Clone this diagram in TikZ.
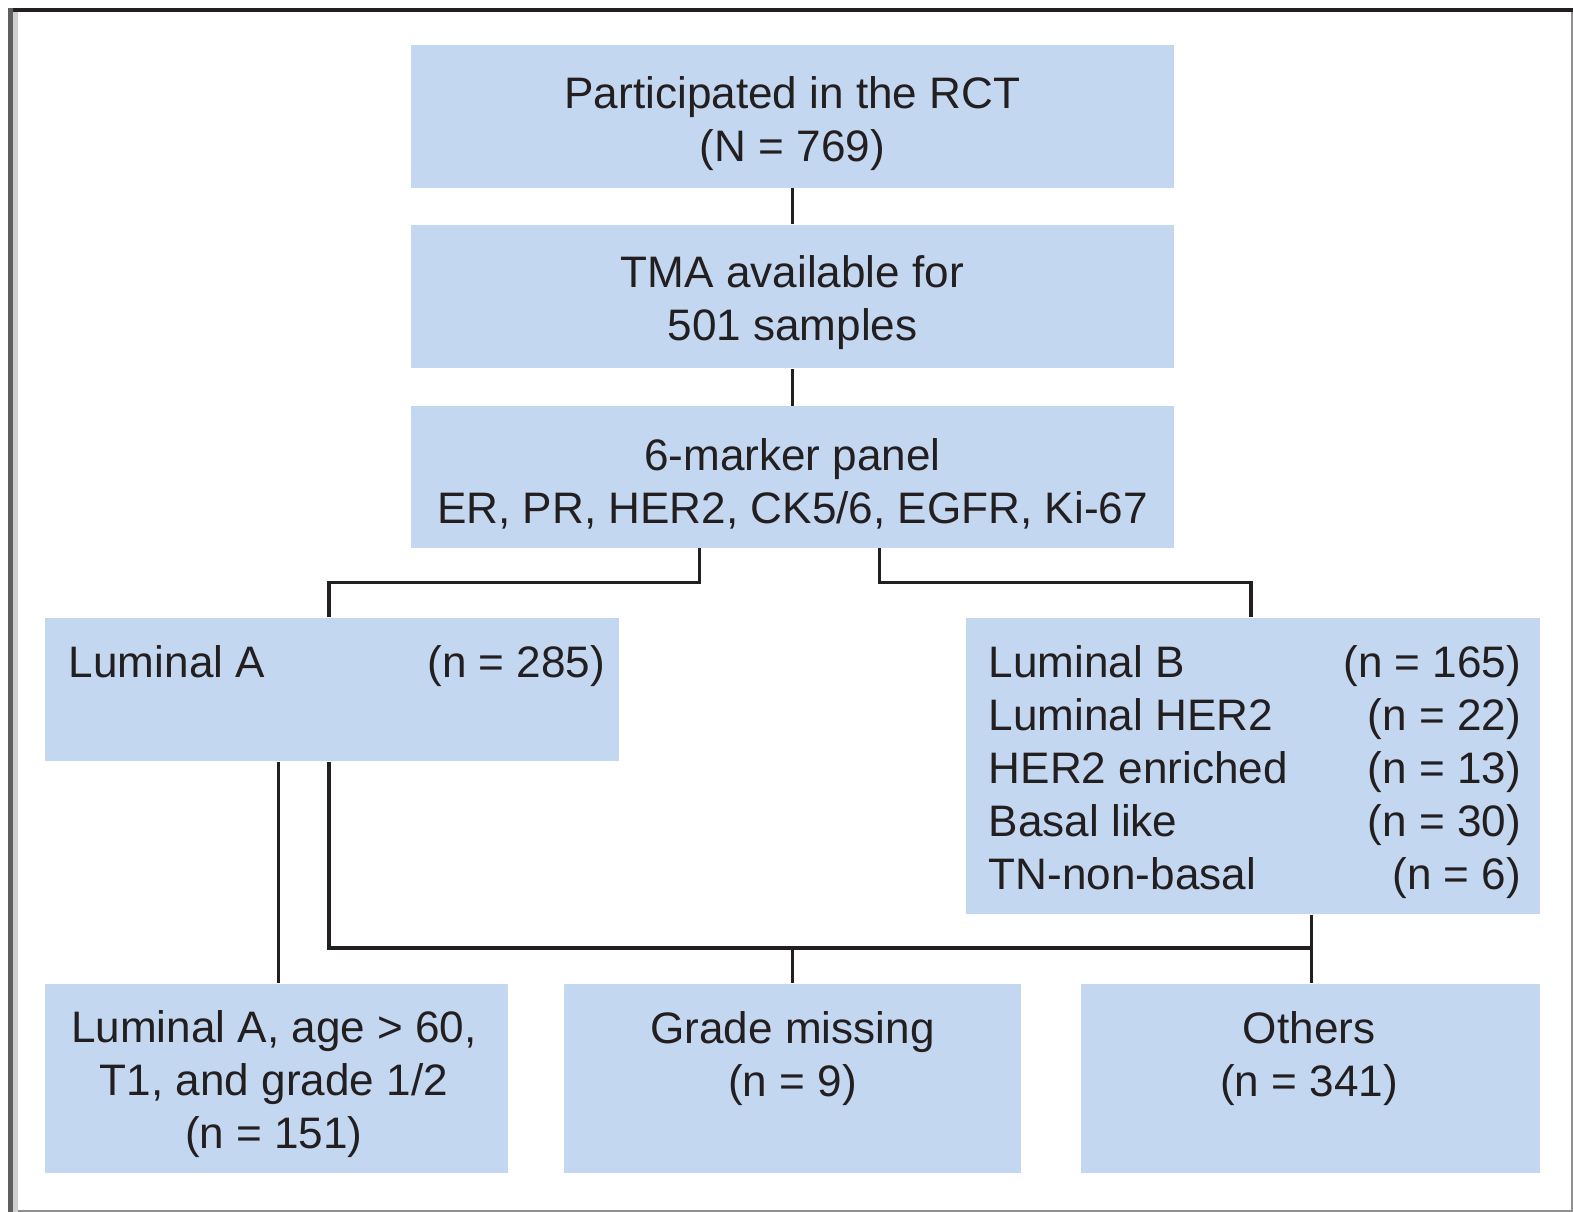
\documentclass[tikz,border=0pt]{standalone}
\usepackage{fontspec}
\setmainfont{Liberation Sans}
\definecolor{boxfill}{HTML}{C4D7F0}
\definecolor{ink}{HTML}{231F20}
\definecolor{frameside}{HTML}{5F5F5F}
\definecolor{framelight}{HTML}{D0D0D0}
\definecolor{frameedge}{HTML}{909090}
\begin{document}
\begin{tikzpicture}[
  x=0.01cm, y=-0.01cm,
  font=\fontsize{12.5}{15}\selectfont, text=ink,
  box/.style={fill=boxfill, inner sep=0pt},
  txt/.style={align=center, inner sep=0pt},
  cell/.style={inner sep=0pt},
  link/.style={draw=ink, line width=0.9pt}
]
  \useasboundingbox (0,0) rectangle (1568,1208);

  %% ============================================ the page frame
  \fill[ink] (8,8) rectangle (1568,12);
  \fill[frameside] (8,8) rectangle (13,1208);
  \fill[framelight] (13,12) rectangle (18,1208);
  \fill[frameedge] (1566,12) rectangle (1568,1208);
  \fill[frameedge] (18,1206.5) rectangle (1568,1208);

  %% ------------------------------------------------------------ the top chain
  \node[box, minimum width=7.60cm, minimum height=1.42cm] (rct) at (790,116) {};
  \node[txt] (rct-t) at (790,123) {Participated in the RCT\\(N = 769)};

  \node[box, minimum width=7.60cm, minimum height=1.43cm] (tma) at (790,295.5) {};
  \node[txt] (tma-t) at (790,302) {TMA available for\\501 samples};

  \node[box, minimum width=7.60cm, minimum height=1.41cm] (panel) at (790,475.5) {};
  \node[txt] (panel-t) at (790,482) {6-marker panel\\ER, PR, HER2, CK5/6, EGFR, Ki-67};

  %% ------------------------------------------------------------ the subtypes
  \node[box, minimum width=5.72cm, minimum height=1.43cm] (luma) at (331,687.5) {};
  \node[cell, anchor=base west] (la) at (68,675) {Luminal A};
  \node[cell, anchor=base east] (la-n) at (604,675) {(n = 285)};

  \node[box, minimum width=5.72cm, minimum height=2.95cm] (lumb) at (1249,763.5) {};
  \foreach \name/\num [count=\i from 0] in {Luminal B/165, Luminal HER2/22,
      HER2 enriched/13, Basal like/30, TN-non-basal/6} {
    \node[cell, anchor=base west] (lb-\i) at (985,675+52.8*\i) {\name};
    \node[cell, anchor=base east] (lbn-\i) at (1517,675+52.8*\i) {(n = \num)};
  }

  %% ------------------------------------------------------------ the outcome row
  \node[box, minimum width=4.61cm, minimum height=1.88cm] (lowrisk) at (275.5,1075) {};
  \node[txt] (lowrisk-t) at (273,1081) {Luminal A, age > 60,\\T1, and grade 1/2\\(n = 151)};

  \node[box, minimum width=4.56cm, minimum height=1.88cm] (grade) at (790,1075) {};
  \node[txt] (grade-t) at (790,1055) {Grade missing\\(n = 9)};

  \node[box, minimum width=4.57cm, minimum height=1.88cm] (others) at (1306.5,1075) {};
  \node[txt] (others-t) at (1305,1055) {Others\\(n = 341)};

  %% ============================================ connectors
  \coordinate (colA) at (697,0);
  \coordinate (colB) at (877,0);
  \coordinate (colC) at (278,0);
  \coordinate (splitL) at (328,581);
  \coordinate (splitR) at (1247,581);
  \coordinate (merge) at (790,945);
  \coordinate (mergeR) at (1307,945);

  \draw[link] (rct.south) -- (tma.north);
  \draw[link] (tma.south) -- (panel.north);
  \draw[link] (panel.south -| colA) |- (splitL) -- (luma.north -| splitL);
  \draw[link] (panel.south -| colB) |- (splitR) -- (lumb.north -| splitR);
  \draw[link] (luma.south -| colC) -- (lowrisk.north -| colC);
  \draw[link] (luma.south -| splitL) |- (mergeR);
  \draw[link] (lumb.south -| mergeR) -- (others.north -| mergeR);
  \draw[link] (merge) -- (grade.north);

\end{tikzpicture}
\end{document}
